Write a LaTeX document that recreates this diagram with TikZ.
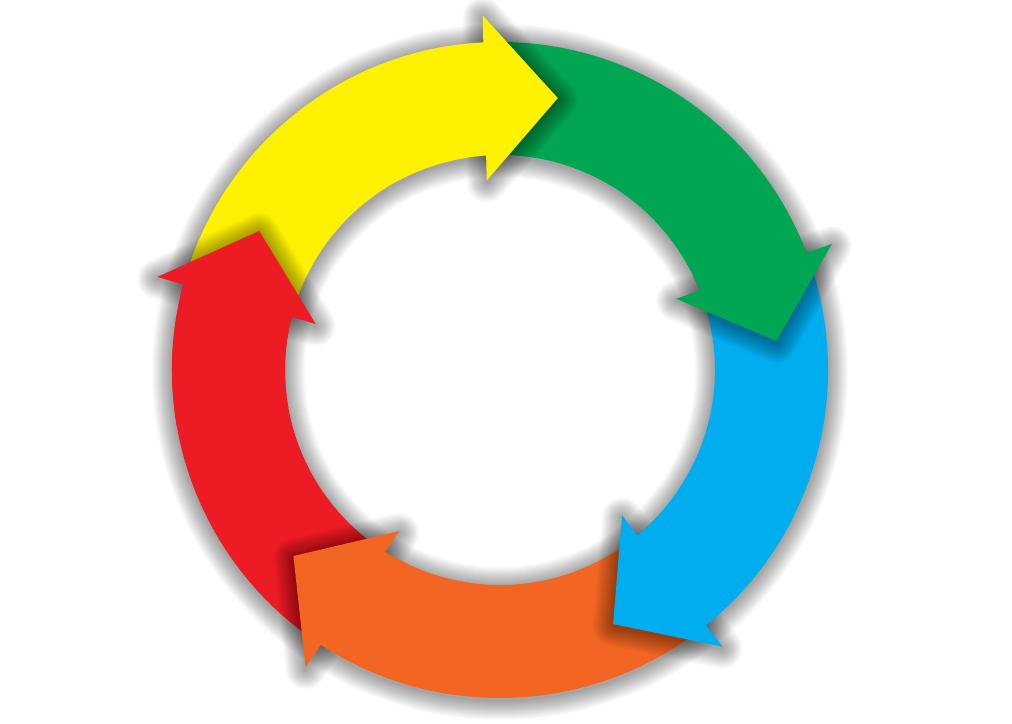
\documentclass[tikz,border=0pt]{standalone}
\definecolor{cyY}{RGB}{255,242,0}
\definecolor{cyG}{RGB}{0,166,81}
\definecolor{cyB}{RGB}{0,174,239}
\definecolor{cyO}{RGB}{242,101,34}
\definecolor{cyR}{RGB}{237,28,36}
\tikzset{
  halolayer/.style={black, draw opacity=0.018, line join=round},
}
\newcommand\myhalo[1]{\foreach \w in {40,38,...,2}{\draw[halolayer, line width=\w pt] #1;}}
\begin{document}
\begin{tikzpicture}[x=1pt,y=1pt]
\fill[white] (0,0) rectangle (1012,723);
\useasboundingbox (0,0) rectangle (1012,723);
\begin{scope}[shift={(500,353)}]
% soft shadow of the ring
\begin{scope}[yshift=-2pt]
\myhalo{(0,0) circle[radius=328pt] (0,0) circle[radius=215pt]}
\end{scope}
% arrow bodies
\foreach \k/\c in {0/cyY,1/cyG,2/cyB,3/cyO,4/cyR}{
  \pgfmathsetmacro\t{78-72*\k}
  \pgfmathsetmacro\aa{\t+85}
  \pgfmathsetmacro\ab{\t+14}
  \fill[\c] (\aa:328pt) arc[start angle=\aa, end angle=\ab, radius=328pt]
     -- (\ab:215pt) arc[start angle=\ab, end angle=\aa, radius=215pt] -- cycle;
}
% arrow heads with their shadows on the next arrow
\foreach \k/\c in {0/cyY,1/cyG,2/cyB,3/cyO,4/cyR}{
  \pgfmathsetmacro\t{78-72*\k}
  \pgfmathsetmacro\ha{\t+14.8}
  \pgfmathsetmacro\hb{\t+16}
  \pgfmathsetmacro\ab{\t+14}
  \pgfmathsetmacro\ac{\t+40}
  \begin{scope}[yshift=-2pt]
  \myhalo{(\ha:355pt) -- (\t:278pt) -- (\hb:190pt) -- cycle}
  \end{scope}
  \fill[\c] (\ac:328pt) arc[start angle=\ac, end angle=\ab, radius=328pt]
     -- (\ab:215pt) arc[start angle=\ab, end angle=\ac, radius=215pt] -- cycle;
  \fill[\c] (\ha:355pt) -- (\t:278pt) -- (\hb:190pt) -- cycle;
}
\end{scope}
\end{tikzpicture}
\end{document}
